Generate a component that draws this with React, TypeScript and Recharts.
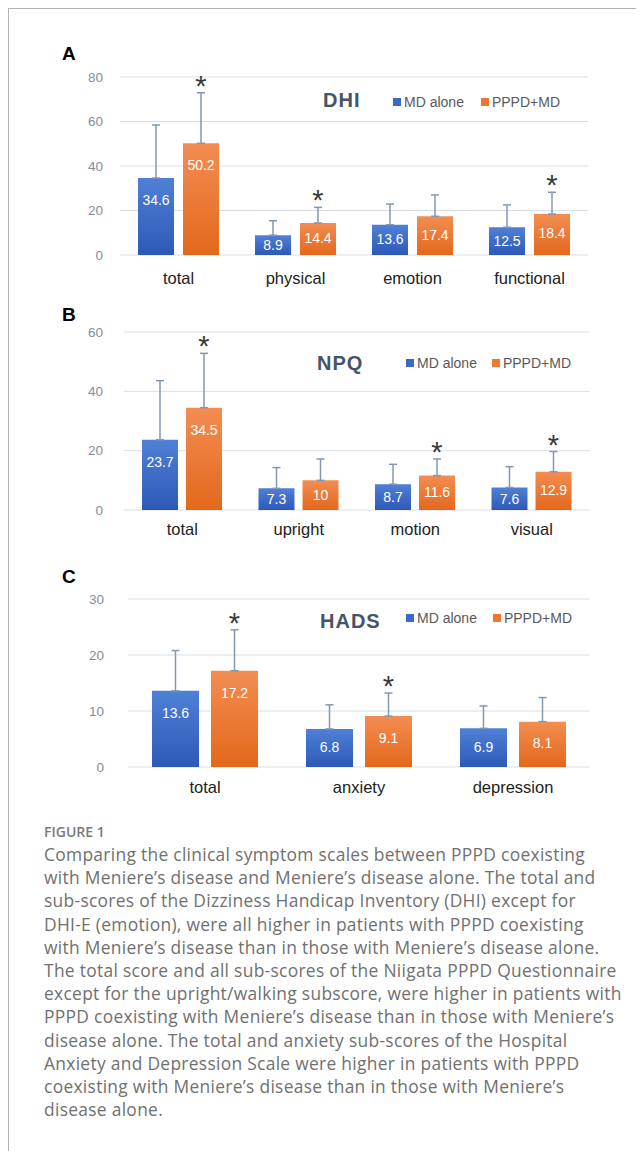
import React from 'react';
import { BarChart, Bar, XAxis, YAxis, CartesianGrid, ErrorBar, LabelList, Legend } from 'recharts';

// panel A - DHI
const dhiCats = ['total', 'physical', 'emotion', 'functional'];
const dhiMd = [34.6, 8.9, 13.6, 12.5];
const dhiMdSd = [23.8, 6.5, 9.3, 10.0];
const dhiPppd = [50.2, 14.4, 17.4, 18.4];
const dhiPppdSd = [22.7, 7.0, 9.6, 9.8];
const dhiSig = [true, true, false, true];
const dhiTicks = [0, 20, 40, 60, 80];

// panel B - NPQ
const npqCats = ['total', 'upright', 'motion', 'visual'];
const npqMd = [23.7, 7.3, 8.7, 7.6];
const npqMdSd = [19.9, 7.0, 6.7, 7.0];
const npqPppd = [34.5, 10, 11.6, 12.9];
const npqPppdSd = [18.3, 7.2, 5.6, 6.8];
const npqSig = [true, false, true, true];
const npqTicks = [0, 20, 40, 60];

// panel C - HADS
const hadsCats = ['total', 'anxiety', 'depression'];
const hadsMd = [13.6, 6.8, 6.9];
const hadsMdSd = [7.2, 4.3, 4.0];
const hadsPppd = [17.2, 9.1, 8.1];
const hadsPppdSd = [7.3, 4.1, 4.3];
const hadsSig = [true, true, false];
const hadsTicks = [0, 10, 20, 30];

const seriesNames = ['MD alone', 'PPPD+MD'];

const captionLines = [
  'Comparing the clinical symptom scales between PPPD coexisting',
  'with Meniere’s disease and Meniere’s disease alone. The total and',
  'sub-scores of the Dizziness Handicap Inventory (DHI) except for',
  'DHI-E (emotion), were all higher in patients with PPPD coexisting',
  'with Meniere’s disease than in those with Meniere’s disease alone.',
  'The total score and all sub-scores of the Niigata PPPD Questionnaire',
  'except for the upright/walking subscore, were higher in patients with',
  'PPPD coexisting with Meniere’s disease than in those with Meniere’s',
  'disease alone. The total and anxiety sub-scores of the Hospital',
  'Anxiety and Depression Scale were higher in patients with PPPD',
  'coexisting with Meniere’s disease than in those with Meniere’s',
  'disease alone.',
];

const FONT = '"Liberation Sans", Arial, Helvetica, sans-serif';
const BLUE = '#3b69c7';
const ORANGE = '#ee7731';
const ERR = '#8497b0';

function Panel(p: any) {
  const data = p.cats.map((c: string, i: number) => ({
    cat: c,
    md: p.md[i],
    pppd: p.pppd[i],
    mdErr: [0, p.mdSd[i]],
    pppdErr: [0, p.pppdSd[i]],
  }));

  const valueLabel = (lp: any) => {
    const x = Number(lp.x), y = Number(lp.y), w = Number(lp.width), h = Number(lp.height);
    const off = Math.min(22, 0.45 * h + 1);
    return (
      <text x={x + w / 2} y={y + off} fill="#fff" fontSize={14} fontFamily={FONT}
        textAnchor="middle" dominantBaseline="central">{lp.value}</text>
    );
  };

  // asterisk sits above the orange error bar, using the bar's own px/unit
  const star = (lp: any) => {
    const i = lp.index;
    if (!p.sig[i]) return null;
    const x = Number(lp.x), y = Number(lp.y), w = Number(lp.width), h = Number(lp.height);
    const top = y - p.pppdSd[i] * (h / p.pppd[i]);
    return (
      <text x={x + w / 2} y={top + 3} fill="#3a3a3a" fontSize={29} fontFamily={FONT}
        textAnchor="middle">*</text>
    );
  };

  const legend = () => (
    <div style={{ display: 'flex', alignItems: 'center', fontFamily: FONT, fontSize: 14, color: '#595959', lineHeight: '16px', whiteSpace: 'nowrap' }}>
      {seriesNames.map((n, i) => (
        <span key={n} style={{ display: 'flex', alignItems: 'center', marginRight: i === 0 ? p.legGap : 0 }}>
          <span style={{ width: 8, height: 8, background: i === 0 ? BLUE : ORANGE, marginRight: 3, display: 'inline-block' }} />
          {n}
        </span>
      ))}
    </div>
  );

  return (
    <div style={{ position: 'absolute', left: p.left, top: p.top }}>
      <BarChart width={p.width} height={p.height} data={data}
        margin={{ top: p.mt, right: 10, bottom: 0, left: 0 }}
        barSize={p.barSize} barGap={p.barGap}>
        <defs>
          <linearGradient id={`b${p.id}`} x1="0" y1="0" x2="0" y2="1">
            <stop offset="0%" stopColor="#5080d6" />
            <stop offset="100%" stopColor="#2c59b6" />
          </linearGradient>
          <linearGradient id={`o${p.id}`} x1="0" y1="0" x2="0" y2="1">
            <stop offset="0%" stopColor="#f38d52" />
            <stop offset="100%" stopColor="#e3681c" />
          </linearGradient>
        </defs>
        <CartesianGrid vertical={false} stroke="#d9dee6" />
        <XAxis dataKey="cat" axisLine={false} tickLine={false} tickSize={0} tickMargin={p.xtm} height={40}
          interval={0} tick={{ fill: '#222', fontSize: 16.5, fontFamily: FONT }} />
        <YAxis domain={[0, p.ticks[p.ticks.length - 1]]} ticks={p.ticks} width={p.yw} axisLine={false}
          tickLine={false} tickSize={0} tickMargin={p.ytm} interval={0}
          tick={{ fill: '#848d9c', fontSize: 13.5, fontFamily: FONT }} />
        <Legend verticalAlign="middle" align="center" layout="horizontal" content={legend}
          wrapperStyle={{ top: p.legTop, left: p.legLeft, width: 'auto', height: 'auto' }} />
        <Bar dataKey="md" name={seriesNames[0]} fill={`url(#b${p.id})`} isAnimationActive={false}>
          <ErrorBar dataKey="mdErr" direction="y" width={4} stroke={ERR} strokeWidth={1.5} />
          <LabelList dataKey="md" content={valueLabel} />
        </Bar>
        <Bar dataKey="pppd" name={seriesNames[1]} fill={`url(#o${p.id})`} isAnimationActive={false}>
          <ErrorBar dataKey="pppdErr" direction="y" width={4} stroke={ERR} strokeWidth={1.5} />
          <LabelList dataKey="pppd" content={valueLabel} />
          <LabelList dataKey="pppd" content={star} />
        </Bar>
      </BarChart>
      <div style={{ position: 'absolute', left: p.titleLeft, top: p.titleTop, fontFamily: FONT, fontWeight: 700,
        fontSize: 20, letterSpacing: 1, color: '#44546a', lineHeight: '20px' }}>{p.title}</div>
      <div style={{ position: 'absolute', left: p.letterLeft, top: p.letterTop, fontFamily: FONT, fontWeight: 700,
        fontSize: 19, color: '#000', lineHeight: '20px' }}>{p.letter}</div>
    </div>
  );
}

export default function App() {
  return (
    <div style={{ position: 'relative', width: 636, height: 1143, borderTop: '1px solid #b3b3b3',
      borderLeft: '1px solid #b3b3b3', boxSizing: 'border-box', background: '#fff' }}>
      <Panel id="A" letter="A" title="DHI" cats={dhiCats} md={dhiMd} mdSd={dhiMdSd} pppd={dhiPppd}
        pppdSd={dhiPppdSd} sig={dhiSig} ticks={dhiTicks}
        left={51} top={51} width={538} height={235} mt={17} yw={60} ytm={17} xtm={17}
        barSize={36} barGap={9} legTop={34} legLeft={333} legGap={17}
        titleLeft={263} titleTop={30} letterLeft={2} letterTop={-16} />
      <Panel id="B" letter="B" title="NPQ" cats={npqCats} md={npqMd} mdSd={npqMdSd} pppd={npqPppd}
        pppdSd={npqPppdSd} sig={npqSig} ticks={npqTicks}
        left={51} top={303} width={540} height={238} mt={20} yw={64} ytm={21} xtm={13}
        barSize={36} barGap={8} legTop={43} legLeft={346} legGap={15}
        titleLeft={257} titleTop={41} letterLeft={2} letterTop={-7} />
      <Panel id="C" letter="C" title="HADS" cats={hadsCats} md={hadsMd} mdSd={hadsMdSd} pppd={hadsPppd}
        pppdSd={hadsPppdSd} sig={hadsSig} ticks={hadsTicks}
        left={51} top={571} width={540} height={227} mt={19} yw={68} ytm={24} xtm={14}
        barSize={47} barGap={12} legTop={30} legLeft={346} legGap={16}
        titleLeft={260} titleTop={31} letterLeft={2} letterTop={-13} />
      <div style={{ position: 'absolute', left: 35, top: 815, fontFamily: '"Open Sans", sans-serif', fontWeight: 600,
        fontSize: 14, color: '#7a7a7a', lineHeight: '16px' }}>FIGURE 1</div>
      <div style={{ position: 'absolute', left: 35, top: 834, fontFamily: '"Open Sans", sans-serif',
        fontSize: 17.4, letterSpacing: 0.3, color: '#707070', lineHeight: '23.2px', whiteSpace: 'nowrap' }}>
        {captionLines.map((l) => <div key={l}>{l}</div>)}
      </div>
    </div>
  );
}
